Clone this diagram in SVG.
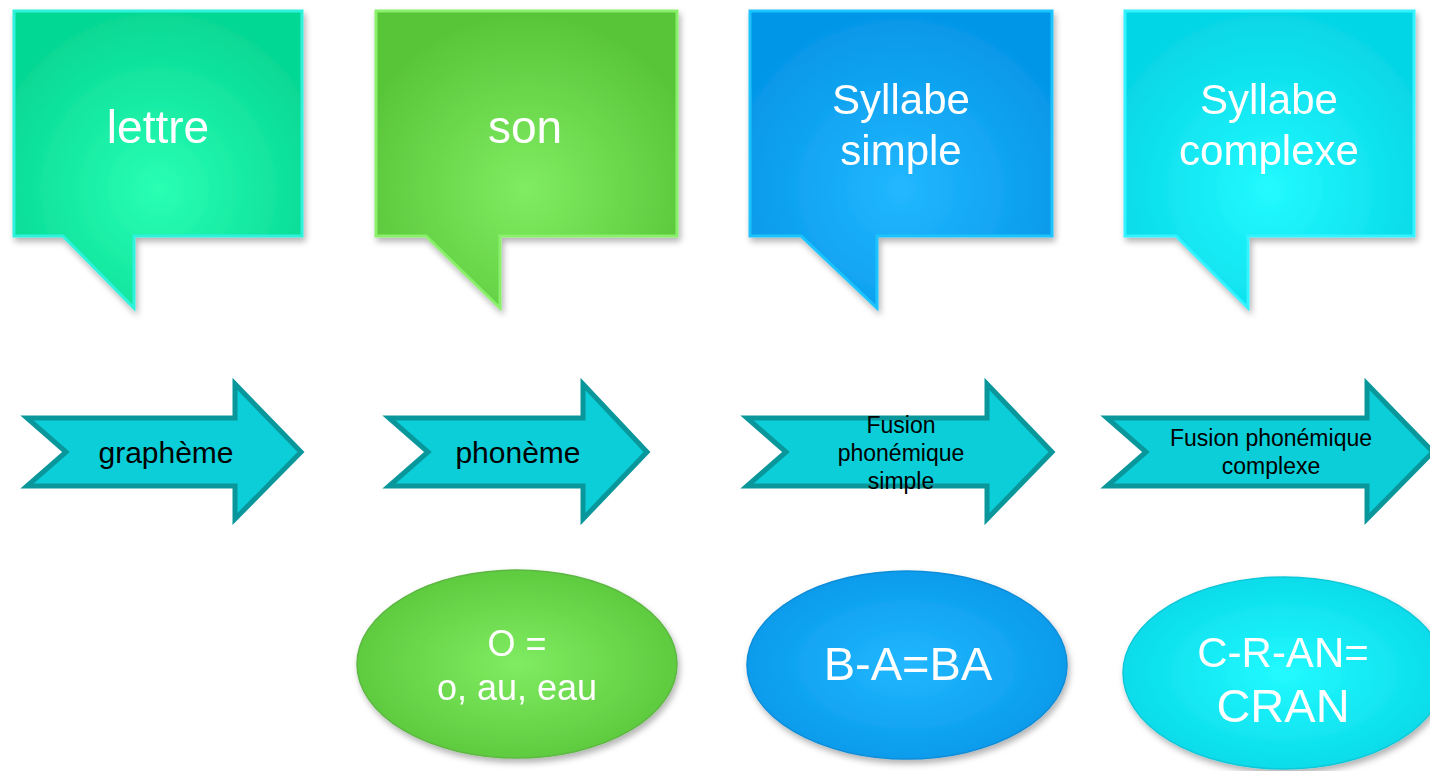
<svg xmlns="http://www.w3.org/2000/svg" width="1430" height="771" viewBox="0 0 1430 771">
<style>
.ct{font-family:"Liberation Sans",Arial,sans-serif;fill:#ffffff;text-anchor:middle}
.at{font-family:"Liberation Sans",Arial,sans-serif;fill:#000000;text-anchor:middle}
.arrow{fill:#0bced8;stroke:#0a979c;stroke-width:5;stroke-linejoin:miter}
</style>
<defs>
<filter id="sh" x="-10%" y="-10%" width="125%" height="130%">
<feDropShadow dx="2" dy="4" stdDeviation="3" flood-color="#000" flood-opacity="0.3"/>
</filter>
<radialGradient id="g1" cx="0.5" cy="0.6" r="0.6"><stop offset="0" stop-color="#2affb4"/><stop offset="1" stop-color="#06d894"/></radialGradient>
<radialGradient id="g2" cx="0.5" cy="0.6" r="0.6"><stop offset="0" stop-color="#80ec62"/><stop offset="1" stop-color="#58c438"/></radialGradient>
<radialGradient id="g3" cx="0.5" cy="0.6" r="0.6"><stop offset="0" stop-color="#22b8ff"/><stop offset="1" stop-color="#0596e8"/></radialGradient>
<radialGradient id="g4" cx="0.5" cy="0.6" r="0.6"><stop offset="0" stop-color="#22faff"/><stop offset="1" stop-color="#06d6e6"/></radialGradient>
<radialGradient id="e2" cx="0.5" cy="0.5" r="0.6"><stop offset="0" stop-color="#80ec62"/><stop offset="1" stop-color="#58c438"/></radialGradient>
<radialGradient id="e3" cx="0.5" cy="0.5" r="0.6"><stop offset="0" stop-color="#22b8ff"/><stop offset="1" stop-color="#0596e8"/></radialGradient>
<radialGradient id="e4" cx="0.5" cy="0.5" r="0.6"><stop offset="0" stop-color="#22faff"/><stop offset="1" stop-color="#06d6e6"/></radialGradient>
</defs>
<rect width="1430" height="771" fill="#ffffff"/>

<g id="callout-lettre" filter="url(#sh)">
<path d="M14,11 H302 V236 H134 V308 L63,236 H14 Z" fill="url(#g1)" stroke="#2ef2dc" stroke-width="3"/>
<text class="ct" x="158" y="143" font-size="46">lettre</text>
</g>
<g id="callout-son" filter="url(#sh)">
<path d="M376,11 H677 V236 H500 V308 L426,236 H376 Z" fill="url(#g2)" stroke="#8af06c" stroke-width="3"/>
<text class="ct" x="525" y="143" font-size="46">son</text>
</g>
<g id="callout-syllabe-simple" filter="url(#sh)">
<path d="M750,11 H1052 V236 H877 V308 L801,236 H750 Z" fill="url(#g3)" stroke="#1ec4ff" stroke-width="3"/>
<text class="ct" x="901" y="114" font-size="42">Syllabe</text>
<text class="ct" x="901" y="165" font-size="42">simple</text>
</g>
<g id="callout-syllabe-complexe" filter="url(#sh)">
<path d="M1125,11 H1414 V236 H1248 V308 L1176,236 H1125 Z" fill="url(#g4)" stroke="#34f2ff" stroke-width="3"/>
<text class="ct" x="1269" y="114" font-size="42">Syllabe</text>
<text class="ct" x="1269" y="165" font-size="42">complexe</text>
</g>

<g id="arrow-grapheme">
<path class="arrow" d="M27,418 H235 V384 L301,452 L235,519 V486 H27 L66,452 Z"/>
<text class="at" x="166" y="463" font-size="30">graphème</text>
</g>
<g id="arrow-phoneme">
<path class="arrow" d="M389,418 H583 V384 L647,452 L583,519 V486 H389 L428,452 Z"/>
<text class="at" x="518" y="463" font-size="30">phonème</text>
</g>
<g id="arrow-fusion-simple">
<path class="arrow" d="M747,418 H987 V384 L1052,452 L987,519 V486 H747 L786,452 Z"/>
<text class="at" x="901" y="433" font-size="23">Fusion</text>
<text class="at" x="901" y="461" font-size="23">phonémique</text>
<text class="at" x="901" y="489" font-size="23">simple</text>
</g>
<g id="arrow-fusion-complexe">
<path class="arrow" d="M1107,418 H1367 V384 L1433,452 L1367,519 V486 H1107 L1146,452 Z"/>
<text class="at" x="1271" y="446" font-size="23">Fusion phonémique</text>
<text class="at" x="1271" y="474" font-size="23">complexe</text>
</g>

<g id="ellipse-o" filter="url(#sh)">
<ellipse cx="517" cy="664" rx="160" ry="94" fill="url(#e2)" stroke="#5cb842" stroke-width="1.5"/>
<text class="ct" x="517" y="656" font-size="36">O =</text>
<text class="ct" x="517" y="700" font-size="36">o, au, eau</text>
</g>
<g id="ellipse-ba" filter="url(#sh)">
<ellipse cx="907" cy="665" rx="160" ry="94" fill="url(#e3)" stroke="#0a8cd8" stroke-width="1.5"/>
<text class="ct" x="908" y="680" font-size="47">B-A=BA</text>
</g>
<g id="ellipse-cran" filter="url(#sh)">
<ellipse cx="1284" cy="673" rx="161" ry="96" fill="url(#e4)" stroke="#10c8d8" stroke-width="1.5"/>
<text class="ct" x="1283" y="667" font-size="42">C-R-AN=</text>
<text class="ct" x="1283" y="722" font-size="47">CRAN</text>
</g>
</svg>
